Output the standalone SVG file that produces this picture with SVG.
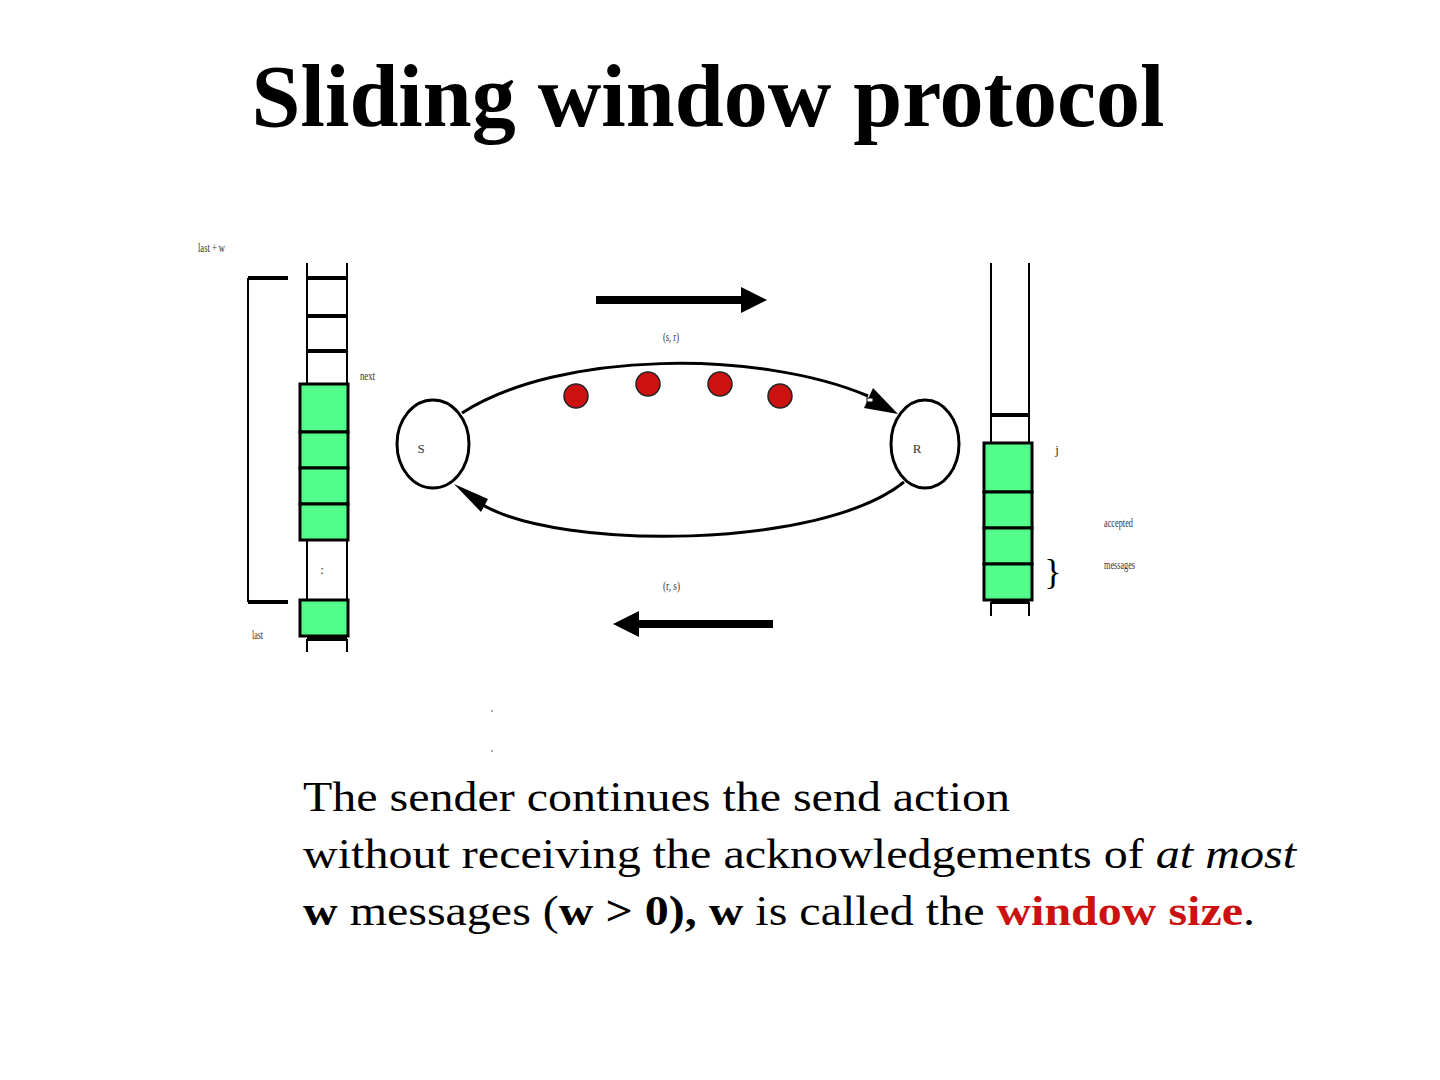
<svg xmlns="http://www.w3.org/2000/svg" width="1440" height="1080" viewBox="0 0 1440 1080">
<style>
.sm{font-family:"Liberation Serif",serif;font-size:13px;fill:#333}
.ln{stroke:#000;stroke-width:2;fill:none}
.rung{stroke:#000;stroke-width:4;fill:none}
.cell{fill:#52ff8a;stroke:#000;stroke-width:3}
.node{fill:#fff;stroke:#000;stroke-width:3}
.pkt{fill:#cc1111;stroke:#222;stroke-width:1.5}
.body{font-family:"Liberation Serif",serif;font-size:43px;fill:#000}
</style>
<defs>
<marker id="ah" markerWidth="10" markerHeight="10" refX="9" refY="5" orient="auto" markerUnits="userSpaceOnUse" viewBox="0 0 10 10">
<path d="M0,0 L10,5 L0,10 Z" fill="#000"/>
</marker>
</defs>
<rect width="1440" height="1080" fill="#fff"/>
<text x="708" y="126" text-anchor="middle" font-family="Liberation Serif,serif" font-weight="bold" font-size="88">Sliding window protocol</text>

<g id="sender-queue">
<line class="ln" x1="307" y1="263" x2="307" y2="384"/>
<line class="ln" x1="347" y1="263" x2="347" y2="384"/>
<line class="rung" x1="307" y1="278" x2="347" y2="278"/>
<line class="rung" x1="307" y1="316" x2="347" y2="316"/>
<line class="rung" x1="307" y1="351" x2="347" y2="351"/>
<rect class="cell" x="300" y="384" width="48" height="48"/>
<rect class="cell" x="300" y="432" width="48" height="36"/>
<rect class="cell" x="300" y="468" width="48" height="36"/>
<rect class="cell" x="300" y="504" width="48" height="36"/>
<line class="ln" x1="307" y1="540" x2="307" y2="600"/>
<line class="ln" x1="347" y1="540" x2="347" y2="600"/>
<text class="sm" x="322" y="574" text-anchor="middle">:</text>
<rect class="cell" x="300" y="600" width="48" height="36"/>
<line class="rung" x1="307" y1="639" x2="347" y2="639"/>
<line class="ln" x1="307" y1="639" x2="307" y2="652"/>
<line class="ln" x1="347" y1="639" x2="347" y2="652"/>
<path class="ln" d="M248,278 V602"/>
<line class="rung" x1="248" y1="278" x2="288" y2="278"/>
<line class="rung" x1="248" y1="602" x2="288" y2="602"/>
<text class="sm" x="198" y="252" textLength="27" lengthAdjust="spacingAndGlyphs">last + w</text>
<text class="sm" x="360" y="380" textLength="15" lengthAdjust="spacingAndGlyphs">next</text>
<text class="sm" x="252" y="639" textLength="11" lengthAdjust="spacingAndGlyphs">last</text>
</g>

<g id="receiver-queue">
<line class="ln" x1="991" y1="263" x2="991" y2="443"/>
<line class="ln" x1="1029" y1="263" x2="1029" y2="443"/>
<line class="rung" x1="991" y1="415" x2="1029" y2="415"/>
<rect class="cell" x="984" y="443" width="48" height="49"/>
<rect class="cell" x="984" y="492" width="48" height="36"/>
<rect class="cell" x="984" y="528" width="48" height="36"/>
<rect class="cell" x="984" y="564" width="48" height="36"/>
<line class="rung" x1="991" y1="602" x2="1029" y2="602"/>
<line class="ln" x1="991" y1="602" x2="991" y2="616"/>
<line class="ln" x1="1029" y1="602" x2="1029" y2="616"/>
<text x="1053" y="584" text-anchor="middle" font-family="Liberation Serif,serif" font-size="36" fill="#000">}</text>
<text class="sm" x="1057" y="454" text-anchor="middle">j</text>
<text class="sm" x="1104" y="527" textLength="29" lengthAdjust="spacingAndGlyphs">accepted</text>
<text class="sm" x="1104" y="569" textLength="31" lengthAdjust="spacingAndGlyphs">messages</text>
</g>

<g id="node-S">
<ellipse class="node" cx="433" cy="444" rx="36" ry="44"/>
<text class="sm" x="421" y="453" text-anchor="middle">S</text>
</g>
<g id="node-R">
<ellipse class="node" cx="925" cy="444" rx="34" ry="44"/>
<text class="sm" x="917" y="453" text-anchor="middle">R</text>
</g>

<g id="packets">
<circle class="pkt" cx="576" cy="396" r="12"/>
<circle class="pkt" cx="648" cy="384" r="12"/>
<circle class="pkt" cx="720" cy="384" r="12"/>
<circle class="pkt" cx="780" cy="396" r="12"/>
</g>

<g id="connectors">
<path d="M462,413 C560,350 760,350 868,396" stroke="#000" stroke-width="3" fill="none"/>
<path d="M898,414 L864,408 L873,388 Z" fill="#000"/>
<rect x="867" y="398" width="6" height="4" fill="#fff" stroke="#000" stroke-width="1"/>
<path d="M904,482 C820,550 560,550 483,505" stroke="#000" stroke-width="3" fill="none"/>
<path d="M454,484 L488,499 L481,512 Z" fill="#000"/>
<line x1="596" y1="300" x2="742" y2="300" stroke="#000" stroke-width="8"/>
<path d="M767,300 L741,287 L741,313 Z" fill="#000"/>
<line x1="773" y1="624" x2="638" y2="624" stroke="#000" stroke-width="8"/>
<path d="M613,624 L639,611 L639,637 Z" fill="#000"/>
<text class="sm" x="663" y="341" textLength="16" lengthAdjust="spacingAndGlyphs">(s, r)</text>
<text class="sm" x="663" y="590" textLength="17" lengthAdjust="spacingAndGlyphs">(r, s)</text>
</g>

<circle cx="492" cy="711" r="0.8" fill="#444"/>
<circle cx="492" cy="751" r="0.8" fill="#444"/>

<g id="caption">
<text class="body" x="303" y="811" textLength="707" lengthAdjust="spacingAndGlyphs">The sender continues the send action</text>
<text class="body" x="303" y="868" textLength="993" lengthAdjust="spacingAndGlyphs">without receiving the acknowledgements of <tspan font-style="italic">at most</tspan></text>
<text class="body" x="303" y="925" textLength="952" lengthAdjust="spacingAndGlyphs"><tspan font-weight="bold">w</tspan> messages (<tspan font-weight="bold">w &gt; 0), w</tspan> is called the <tspan font-weight="bold" fill="#cc1111">window size</tspan>.</text>
</g>
</svg>
